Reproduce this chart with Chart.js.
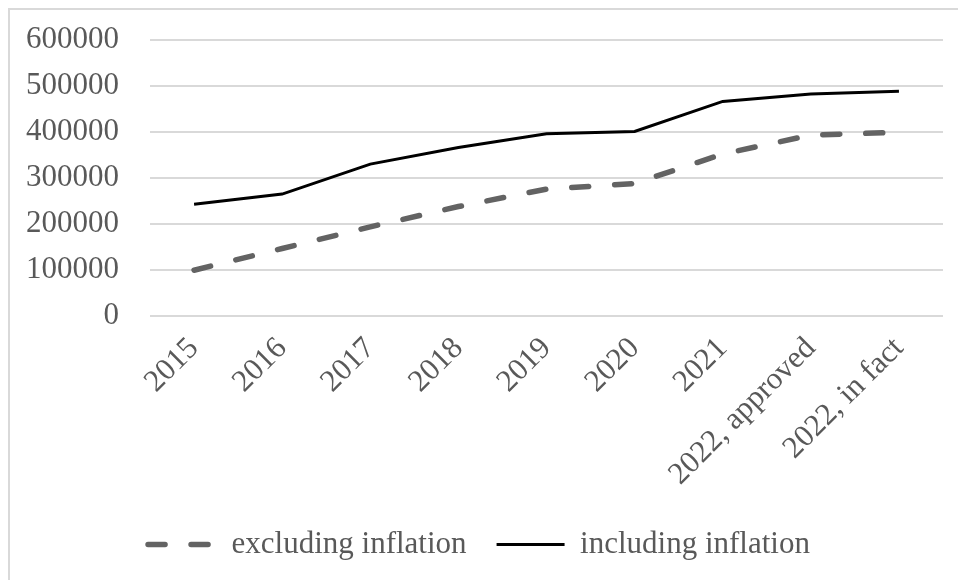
<!DOCTYPE html>
<html>
<head>
<meta charset="utf-8">
<script src="https://cdn.jsdelivr.net/npm/chart.js@4"></script>
<style>
  html, body { margin: 0; padding: 0; background: #fff; overflow: hidden; }
  #frame {
    position: absolute; left: 8px; top: 8px;
    width: 960px; height: 580px;
    border-left: 2px solid #d9d9d9; border-top: 2px solid #d9d9d9;
  }
  #wrap { position: absolute; left: 0; top: 0; width: 948px; height: 570px; }
</style>
</head>
<body>
<div id="frame"><div id="wrap"><canvas id="chart"></canvas></div></div>
<script>
const categories = ['2015', '2016', '2017', '2018', '2019', '2020', '2021', '2022, approved', '2022, in fact'];
const excludingInflation = [100000, 147000, 194000, 238000, 276000, 288000, 352000, 393000, 399000];
const includingInflation = [243000, 265000, 330000, 366000, 396000, 401000, 466000, 482000, 488000];
const yTicks = [0, 100000, 200000, 300000, 400000, 500000, 600000];

const serif = "'Liberation Serif', 'Times New Roman', serif";
const textGray = '#595959';

const ctx = document.getElementById('chart').getContext('2d');
new Chart(ctx, {
    type: 'line',
    data: {
        labels: categories,
        datasets: [{
            label: 'excluding inflation',
            data: excludingInflation,
            borderColor: '#636363',
            backgroundColor: '#636363',
            borderWidth: 5.5,
            borderDash: [17, 26],
            borderCapStyle: 'round',
            pointRadius: 0,
            tension: 0
        }, {
            label: 'including inflation',
            data: includingInflation,
            borderColor: '#000000',
            backgroundColor: '#000000',
            borderWidth: 3,
            borderCapStyle: 'butt',
            pointRadius: 0,
            tension: 0
        }]
    },
    options: {
        responsive: true,
        maintainAspectRatio: false,
        animation: false,
        layout: { padding: { left: 5, right: 15, top: 0, bottom: 10 } },
        plugins: {
            tooltip: { enabled: false },
            legend: {
                position: 'bottom',
                labels: {
                    usePointStyle: true,
                    pointStyle: 'line',
                    pointStyleWidth: 68,
                    boxHeight: 8,
                    color: textGray,
                    padding: 30,
                    font: { family: serif, size: 31 },
                    // point-style legend items lose the dataset dash, so put it back
                    generateLabels: (chart) => {
                        const items = Chart.defaults.plugins.legend.labels.generateLabels(chart);
                        items.forEach(item => {
                            const ds = chart.data.datasets[item.datasetIndex];
                            item.lineDash = ds.borderDash || [];
                            item.lineCap = ds.borderCapStyle;
                            item.lineWidth = ds.borderWidth;
                            item.strokeStyle = ds.borderColor;
                        });
                        return items;
                    }
                }
            }
        },
        scales: {
            x: {
                offset: true,
                grid: { display: false },
                border: { display: false },
                ticks: {
                    color: textGray,
                    minRotation: 45,
                    maxRotation: 45,
                    padding: 6,
                    font: { family: serif, size: 31 }
                }
            },
            y: {
                min: 0,
                max: 600000,
                afterBuildTicks: (axis) => { axis.ticks = yTicks.map(v => ({ value: v })); },
                grid: { color: '#d9d9d9', lineWidth: 2, drawTicks: true, tickLength: 20, tickColor: 'rgba(0,0,0,0)' },
                border: { display: false },
                ticks: {
                    color: textGray,
                    padding: 11,
                    font: { family: serif, size: 31 },
                    callback: (v) => String(v)
                }
            }
        }
    }
});
</script>
</body>
</html>
